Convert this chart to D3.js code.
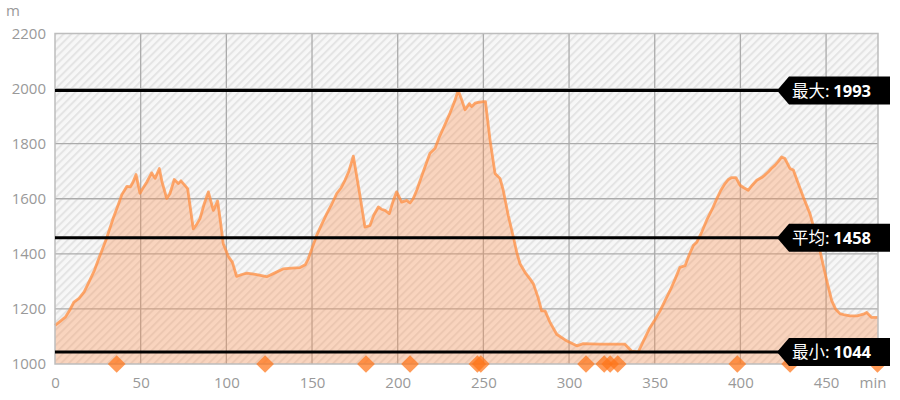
<!DOCTYPE html>
<html>
<head>
<meta charset="utf-8">
<script src="https://cdn.jsdelivr.net/npm/d3@7"></script>
<style>
  html, body { margin: 0; padding: 0; background: #fff; }
  svg { display: block; }
</style>
</head>
<body>
<svg id="chart" width="900" height="400"></svg>
<script>
// ---- data ----
const minutes = [
  0, 3, 6, 9, 11, 14, 17, 20, 23, 26,
  30, 34, 37, 39, 42, 44, 45.5, 47.3, 49.6, 51,
  53.5, 56.4, 58.4, 60.9, 62.5, 65.2, 67.1, 69.6, 72, 73.5,
  74.9, 77.4, 80.7, 82.5, 84.6, 87, 89.5, 92.4, 94.9, 96.5,
  98.2, 101.2, 103.5, 106, 109, 112, 117, 123.5, 128, 133,
  138, 143, 146, 147.8, 150, 152.7, 155.5, 158.6, 161.5, 164.4,
  167, 169.2, 171.5, 174.1, 177.5, 180.9, 183.8, 186, 188.7, 190.5,
  192.6, 195.1, 197.5, 199.4, 202.3, 205.3, 207.2, 209, 211.1, 215,
  218.8, 221.8, 224, 226.6, 230.5, 233, 235.3, 237.3, 239.3, 241.8,
  243.2, 245.1, 247, 250, 251.2, 253.9, 256.8, 259.7, 261.6, 264.5,
  267.5, 269.5, 271.4, 274.3, 277.2, 279.2, 282, 284, 286, 289,
  292.8, 298.6, 304.5, 308.3, 318, 325, 332.6, 336.5, 340.4, 343.5,
  347.2, 350, 353.1, 356, 358.9, 362, 364.7, 367.7, 370, 372.5,
  374.5, 377.5, 380.3, 383.5, 386.2, 388.5, 391, 393, 394.9, 397.4,
  399.8, 402, 404.6, 407, 409.5, 412.4, 414, 416.3, 418, 420.2,
  422, 424.1, 426, 428.9, 430.9, 433.5, 436.7, 440.6, 443.5, 446.4,
  450.4, 453.3, 455.5, 458.1, 461, 464, 468, 471.7, 473.7, 476.6,
  480.3
];
const elevation = [
  1140, 1155, 1170, 1200, 1225, 1238, 1262, 1300, 1340, 1390,
  1455, 1530, 1580, 1615, 1645, 1643, 1660, 1688, 1620, 1635,
  1660, 1694, 1674, 1710, 1660, 1601, 1619, 1670, 1655, 1665,
  1655, 1637, 1491, 1505, 1528, 1580, 1625, 1558, 1592, 1520,
  1437, 1390, 1370, 1318, 1325, 1330, 1325, 1317, 1330, 1345,
  1348, 1350, 1360, 1382, 1420, 1467, 1505, 1546, 1580, 1619,
  1640, 1667, 1700, 1755, 1630, 1497, 1503, 1540, 1570, 1562,
  1558, 1546, 1595, 1625, 1588, 1594, 1585, 1600, 1631, 1700,
  1765, 1783, 1820, 1856, 1911, 1950, 1993, 1960, 1923, 1945,
  1935, 1947, 1950, 1953, 1953, 1813, 1692, 1674, 1631, 1540,
  1461, 1405, 1364, 1333, 1309, 1291, 1240, 1193, 1193, 1150,
  1108, 1084, 1066, 1074, 1072, 1072, 1072, 1047, 1044, 1085,
  1132, 1160, 1193, 1230, 1266, 1310, 1351, 1357, 1395, 1430,
  1442, 1480, 1522, 1562, 1600, 1630, 1655, 1670, 1677, 1677,
  1649, 1640, 1631, 1650, 1667, 1677, 1685, 1698, 1710, 1722,
  1735, 1752, 1746, 1710, 1704, 1660, 1606, 1546, 1480, 1412,
  1303, 1230, 1200, 1183, 1178, 1175, 1175, 1181, 1187, 1169,
  1169
];
const markerMinutes = [36, 122.6, 181.5, 207.2, 246.5, 248.5, 309.9, 320.5, 324, 328.4, 398.2, 429, 480];
const statNames = ["最大", "平均", "最小"];
const statValues = [1993, 1458, 1044];
const xTicks = [0, 50, 100, 150, 200, 250, 300, 350, 400, 450];
const yTicks = [1000, 1200, 1400, 1600, 1800, 2000, 2200];
const xUnit = "min";
const yUnit = "m";

// ---- layout ----
const W = 900, H = 400;
const margin = { left: 55, top: 33.5, right: 22, bottom: 36 };
const pw = W - margin.left - margin.right;
const ph = H - margin.top - margin.bottom;

const svg = d3.select("#chart");
const defs = svg.append("defs");

const bgPat = defs.append("pattern")
  .attr("id", "hatchBg").attr("patternUnits", "userSpaceOnUse")
  .attr("width", 5.5).attr("height", 5.5)
  .attr("patternTransform", "rotate(45)");
bgPat.append("rect").attr("width", 5.5).attr("height", 5.5).attr("fill", "#f7f7f7");
bgPat.append("rect").attr("width", 2).attr("height", 5.5).attr("fill", "#e4e4e4");

const x = d3.scaleLinear().domain([0, 480.3]).range([0, pw]);
const y = d3.scaleLinear().domain([1000, 2200]).range([ph, 0]);

const g = svg.append("g").attr("transform", `translate(${margin.left},${margin.top})`);

// background
g.append("rect").attr("width", pw).attr("height", ph).attr("fill", "url(#hatchBg)");

// grid
g.append("g").selectAll("line").data(xTicks.filter(d => d > 0)).join("line")
  .attr("x1", d => x(d)).attr("x2", d => x(d)).attr("y1", 0).attr("y2", ph)
  .attr("stroke", "#ababab").attr("stroke-width", 1.3);
g.append("g").selectAll("line").data(yTicks.filter(d => d > 1000 && d < 2200)).join("line")
  .attr("x1", 0).attr("x2", pw).attr("y1", d => y(d)).attr("y2", d => y(d))
  .attr("stroke", "#ababab").attr("stroke-width", 1.3);

// area profile
const pts = minutes.map((m, i) => [m, elevation[i]]);
const area = d3.area().x(d => x(d[0])).y0(ph).y1(d => y(d[1]));
const line = d3.line().x(d => x(d[0])).y(d => y(d[1]));
g.append("path").datum(pts).attr("d", area)
  .attr("fill", "rgb(255,140,70)").attr("fill-opacity", 0.32);
g.append("path").datum(pts).attr("d", line)
  .attr("fill", "none").attr("stroke", "#ff8d40").attr("stroke-opacity", 0.75)
  .attr("stroke-width", 2.8).attr("stroke-linejoin", "round");

// frame
g.append("rect").attr("width", pw).attr("height", ph)
  .attr("fill", "none").attr("stroke", "#bdbdbd").attr("stroke-width", 1.5);

// stat lines
const tipX = 777 - margin.left;
g.append("g").selectAll("line").data(statValues).join("line")
  .attr("x1", 0).attr("x2", tipX + 2).attr("y1", d => y(d)).attr("y2", d => y(d))
  .attr("stroke", "#000").attr("stroke-width", 3);

// markers
const diamond = d3.symbol().type(d3.symbolDiamond2).size(200);
g.append("g").selectAll("path").data(markerMinutes).join("path")
  .attr("transform", d => `translate(${x(d)},${ph})`)
  .attr("d", diamond)
  .attr("fill", "#ff7418").attr("fill-opacity", 0.72);

// stat labels
const lab = g.append("g").selectAll("g").data(statValues).join("g")
  .attr("transform", d => `translate(${tipX},${y(d)})`);
lab.append("path")
  .attr("d", "M0,0 L12,-14 L113,-14 L113,14 L12,14 Z")
  .attr("fill", "#000");
const lt = lab.append("text").attr("x", 15).attr("y", 6)
  .attr("fill", "#fff").attr("font-size", 16.5)
  .attr("font-family", "'Noto Sans CJK SC', 'Open Sans', sans-serif");
lt.append("tspan").text((d, i) => statNames[i] + ": ");
lt.append("tspan").attr("font-weight", "bold")
  .attr("font-family", "'Open Sans', 'Noto Sans CJK SC', sans-serif")
  .text(d => d);

// axes
const fontFam = "'Open Sans', 'DejaVu Sans', sans-serif";
const xAxis = g.append("g").attr("transform", `translate(0,${ph})`)
  .call(d3.axisBottom(x).tickValues(xTicks).tickSize(0).tickPadding(13).tickFormat(d3.format("d")));
const yAxis = g.append("g")
  .call(d3.axisLeft(y).tickValues(yTicks).tickSize(0).tickPadding(9).tickFormat(d3.format("d")));
[xAxis, yAxis].forEach(a => {
  a.select(".domain").remove();
  a.selectAll("text").attr("fill", "#999").attr("font-size", 15).attr("font-family", fontFam);
});

svg.append("text").attr("x", 873).attr("y", 388).attr("text-anchor", "middle")
  .attr("fill", "#999").attr("font-size", 15).attr("font-family", fontFam).text(xUnit);
svg.append("text").attr("x", 6).attr("y", 16)
  .attr("fill", "#999").attr("font-size", 15).attr("font-family", fontFam).text(yUnit);
</script>
</body>
</html>
